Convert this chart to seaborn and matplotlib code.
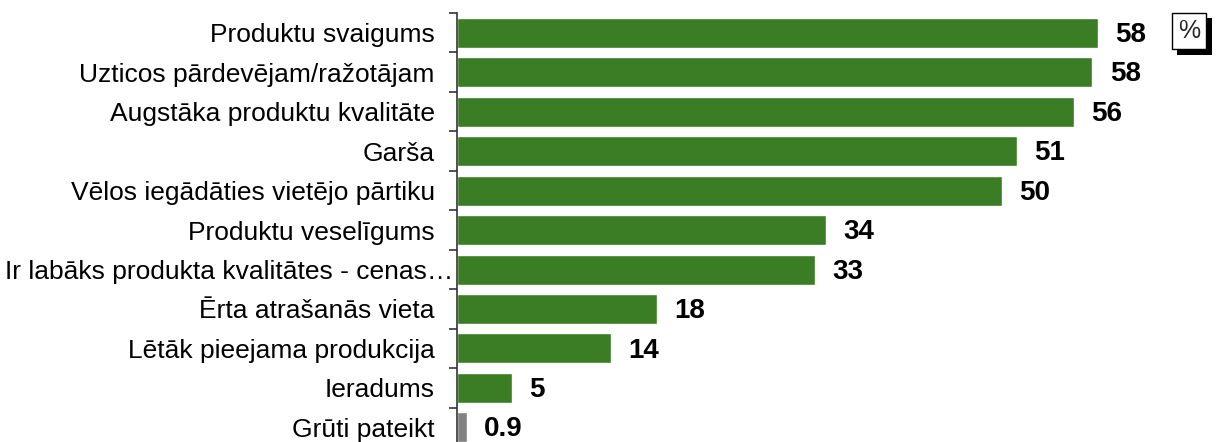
import matplotlib
matplotlib.use("Agg")
import matplotlib.pyplot as plt
import matplotlib.patheffects as pe
from matplotlib.transforms import ScaledTranslation
import seaborn as sns

categories = [
    "Produktu svaigums",
    "Uzticos pārdevējam/ražotājam",
    "Augstāka produktu kvalitāte",
    "Garša",
    "Vēlos iegādāties vietējo pārtiku",
    "Produktu veselīgums",
    "Ir labāks produkta kvalitātes - cenas…",
    "Ērta atrašanās vieta",
    "Lētāk pieejama produkcija",
    "Ieradums",
    "Grūti pateikt",
]
values = [58.0, 57.5, 55.8, 50.7, 49.3, 33.4, 32.4, 18.1, 13.9, 5.0, 0.9]
value_labels = ["58", "58", "56", "51", "50", "34", "33", "18", "14", "5", "0.9"]
bar_colors = ["#3a7d24"] * 10 + ["#828282"]

sns.set_theme(style="white")
plt.rcParams["font.family"] = ["Liberation Sans", "DejaVu Sans"]

fig = plt.figure(figsize=(12.2, 4.42), dpi=100)
ax = fig.add_axes([457 / 1220, 0.0, (1160 - 457) / 1220, 1 - 13 / 442])

sns.barplot(x=values, y=categories, hue=categories, palette=bar_colors,
            legend=False, width=0.76, ax=ax, saturation=1)

ax.set_xlim(0, (1160 - 457) / 11.05)
ax.set_ylim(10.37, -0.5)
ax.set_xlabel("")
ax.set_ylabel("")
ax.set_xticks([])

for s in ["top", "right", "bottom"]:
    ax.spines[s].set_visible(False)
ax.spines["left"].set_color("#333333")
ax.spines["left"].set_linewidth(1.2)

ax.set_yticks(range(len(categories)))
ax.set_yticklabels(categories, fontsize=19, color="black")
ax.set_yticks([i - 0.5 for i in range(len(categories))], minor=True)
ax.tick_params(axis="y", which="major", length=0, pad=16)
ax.tick_params(axis="y", which="minor", length=6, width=1.2, color="#333333", left=True)

# the truncated label sits closer to the axis
long_lbl = ax.get_yticklabels()[6]
long_lbl.set_transform(long_lbl.get_transform() + ScaledTranslation(0.18, 0, fig.dpi_scale_trans))

for i, (v, lbl) in enumerate(zip(values, value_labels)):
    ax.annotate(lbl, (v, i), xytext=(12.5, -1.5), textcoords="offset points",
                va="center", ha="left", fontsize=20, fontweight="bold", color="black",
                annotation_clip=False)

pct = fig.text(1189 / 1220, 1 - 31 / 442, "%", fontsize=18, ha="center", va="center",
               bbox=dict(boxstyle="square,pad=0.25", fc="white", ec="black", lw=1))
pct.get_bbox_patch().set_path_effects([
    pe.SimplePatchShadow(offset=(4, -4), shadow_rgbFace="black", alpha=1.0),
    pe.Normal(),
])

fig.savefig("out.png", dpi=100)
